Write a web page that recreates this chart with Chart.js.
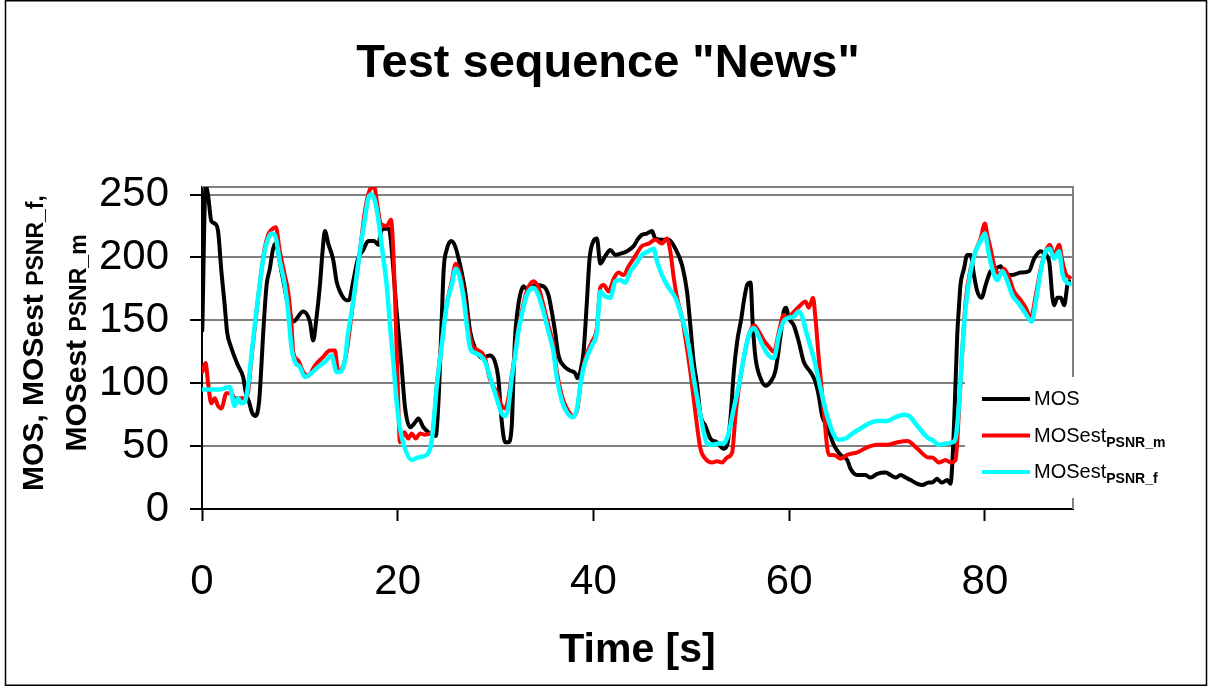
<!DOCTYPE html>
<html>
<head>
<meta charset="utf-8">
<script src="https://cdn.jsdelivr.net/npm/chart.js@4.4.1/dist/chart.umd.min.js"></script>
<style>
  body { margin: 0; background: #fff; }
  #wrap { width: 1209px; height: 686px; }
</style>
</head>
<body>
<div id="wrap"><canvas id="myChart" width="1209" height="686"></canvas></div>
<script>
'use strict';

// ******** DATA *********************************

let chartTitle = 'Test sequence "News"';
let xTitle = 'Time [s]';
let xTicks = [0, 20, 40, 60, 80];
let yTicks = [0, 50, 100, 150, 200, 250];

// MOS (black)
let mosTime = [0.03, 0.37, 0.61, 0.95, 1.3, 1.64, 1.98, 2.32, 2.56, 3.0, 3.68, 4.2, 4.47, 4.81, 5.15, 5.49, 5.83, 6.0, 6.24, 6.6, 6.93, 7.27, 7.5, 8.12, 8.8, 9.32, 10.34, 11.02, 11.36, 11.7, 12.05, 12.32, 12.56, 12.9, 13.41, 13.75, 14.09, 14.78, 15.0, 15.45, 15.9, 16.48, 16.99, 17.6, 18.0, 18.35, 19.04, 19.2, 19.9, 20.4, 20.74, 21.26, 21.7, 22.1, 22.62, 23.3, 23.88, 24.16, 24.5, 24.7, 25.0, 25.45, 25.86, 26.37, 26.89, 27.4, 27.9, 28.6, 29.43, 29.94, 30.28, 30.6, 30.97, 31.3, 31.65, 31.82, 32.0, 32.23, 32.5, 32.84, 33.35, 34.04, 34.89, 35.4, 35.74, 36.08, 36.43, 36.94, 37.62, 38.13, 38.37, 38.65, 38.99, 39.33, 39.6, 40.0, 40.35, 40.7, 41.2, 41.72, 42.23, 42.74, 43.42, 44.1, 44.58, 44.95, 45.46, 45.98, 46.32, 47.0, 47.68, 48.37, 49.05, 49.56, 49.9, 50.24, 50.6, 50.93, 51.44, 51.95, 52.63, 53.3, 53.66, 54.0, 54.34, 54.68, 55.12, 55.36, 55.7, 56.05, 56.28, 56.56, 57.07, 57.58, 58.09, 58.6, 59.12, 59.44, 59.7, 59.95, 60.47, 60.98, 61.49, 62.17, 62.68, 63.02, 63.37, 63.88, 64.56, 65.24, 65.93, 66.27, 66.95, 67.8, 68.3, 69.0, 69.85, 70.36, 70.87, 71.39, 71.9, 72.41, 73.1, 73.6, 74.25, 74.6, 75.1, 75.6, 76.15, 76.49, 76.66, 76.93, 77.17, 77.34, 77.5, 77.86, 78.2, 78.54, 78.88, 79.22, 79.66, 80.07, 80.58, 81.1, 81.6, 82.12, 82.8, 83.66, 84.5, 85.02, 85.7, 86.05, 86.56, 86.9, 87.07, 87.4, 87.75, 88.1, 88.43, 88.6];
let mosValues = [142, 257, 250, 229, 227, 221, 189, 162, 141, 128, 114, 105, 93, 85, 76, 74, 85, 104, 138, 178, 191, 207, 211, 189, 162, 149, 157, 149, 134, 152, 178, 205, 221, 211, 198, 181, 173, 166, 166, 181, 198, 206, 213, 213, 210, 222, 223, 220, 156, 113, 81, 65, 68, 72, 65, 60, 58, 85, 152, 191, 206, 213, 209, 194, 173, 141, 128, 120, 122, 117, 104, 72, 53, 53, 66, 104, 138, 157, 170, 177, 174, 178, 177, 170, 157, 141, 122, 114, 110, 108, 104, 109, 125, 165, 199, 213, 215, 195, 201, 206, 202, 203, 205, 209, 215, 218, 219, 221, 215, 214, 214, 207, 194, 173, 146, 117, 98, 75, 66, 56, 53, 48, 51, 72, 109, 133, 152, 165, 178, 180, 146, 120, 104, 98, 101, 110, 138, 157, 160, 152, 146, 133, 117, 109, 101, 90, 74, 66, 51, 43, 39, 32, 27, 27, 25, 28, 29, 27, 25, 27, 25, 23, 20, 19, 21, 21, 24, 21, 23, 20, 35, 85, 138, 160, 178, 191, 202, 202, 186, 173, 168, 178, 189, 191, 193, 186, 186, 188, 189, 199, 205, 203, 197, 168, 162, 168, 168, 162, 178, 181];

// MOSest PSNR_m (red)
let estMTime = [0.03, 0.37, 0.61, 0.95, 1.3, 1.64, 1.98, 2.49, 3.0, 3.34, 3.86, 4.37, 4.71, 5.05, 5.39, 5.73, 6.07, 6.4, 6.76, 7.1, 7.54, 7.95, 8.46, 8.8, 9.15, 9.32, 9.83, 10.34, 10.85, 11.53, 12.39, 13.07, 13.58, 13.92, 14.44, 14.78, 15.45, 16.14, 16.65, 17.16, 17.6, 17.91, 18.25, 18.87, 19.31, 19.55, 19.79, 20.0, 20.23, 20.68, 21.08, 21.43, 21.84, 22.28, 22.79, 23.3, 23.54, 23.99, 24.5, 25.0, 25.52, 25.93, 26.37, 26.82, 27.23, 27.64, 28.25, 28.87, 29.43, 30.11, 30.62, 30.97, 31.3, 31.65, 32.0, 32.33, 32.67, 33.18, 33.87, 34.38, 34.89, 35.4, 35.91, 36.26, 36.77, 37.28, 37.96, 38.37, 38.65, 38.99, 39.4, 39.84, 40.35, 40.7, 41.04, 41.55, 42.06, 42.57, 43.08, 43.59, 44.1, 44.58, 44.95, 45.64, 46.32, 47.0, 47.51, 47.85, 48.2, 48.54, 49.05, 49.39, 49.9, 50.41, 50.93, 51.44, 52.12, 52.63, 53.14, 53.66, 54.17, 54.51, 54.85, 55.36, 55.87, 56.39, 56.9, 57.41, 57.92, 58.43, 58.95, 59.42, 59.61, 60.12, 60.64, 61.15, 61.66, 62.0, 62.44, 62.68, 63.02, 63.54, 64.05, 64.56, 65.24, 65.93, 66.95, 67.97, 68.98, 70.02, 71.05, 72.07, 73.1, 74.25, 74.6, 75.3, 75.98, 76.49, 77.0, 77.34, 77.68, 78.03, 78.54, 79.05, 79.56, 80.0, 80.24, 80.58, 80.93, 81.44, 81.95, 82.46, 82.97, 83.66, 84.17, 84.69, 85.2, 85.7, 86.22, 86.63, 87.07, 87.58, 87.92, 88.26, 88.67];
let estMValues = [109, 116, 101, 84, 88, 82, 80, 92, 92, 88, 88, 88, 93, 120, 144, 168, 189, 207, 218, 222, 224, 205, 186, 173, 146, 125, 118, 109, 106, 114, 121, 126, 126, 109, 114, 125, 165, 205, 237, 254, 256, 242, 227, 225, 230, 205, 152, 98, 53, 61, 56, 60, 56, 60, 59, 60, 61, 98, 133, 162, 181, 195, 187, 168, 144, 130, 126, 121, 103, 93, 82, 80, 88, 106, 125, 144, 157, 173, 181, 176, 162, 146, 130, 109, 90, 80, 74, 80, 98, 114, 125, 133, 144, 176, 178, 173, 183, 188, 186, 193, 199, 205, 209, 211, 214, 211, 215, 205, 184, 168, 152, 136, 109, 77, 48, 40, 37, 38, 37, 41, 45, 74, 96, 120, 138, 146, 141, 134, 129, 125, 141, 154, 152, 154, 158, 162, 165, 160, 168, 152, 120, 77, 43, 43, 40, 43, 45, 49, 51, 51, 53, 54, 48, 41, 41, 37, 39, 37, 39, 77, 125, 165, 191, 205, 215, 227, 218, 207, 194, 187, 191, 184, 173, 166, 160, 152, 170, 191, 205, 210, 202, 210, 197, 187, 184];

// MOSest PSNR_f (cyan)
let estFTime = [0.03, 0.78, 1.81, 2.83, 3.34, 3.68, 4.03, 4.37, 4.71, 5.05, 5.39, 5.73, 6.07, 6.4, 6.76, 7.1, 7.44, 7.95, 8.46, 8.8, 9.15, 9.49, 10.0, 10.51, 11.19, 11.87, 12.56, 13.24, 13.75, 14.1, 14.6, 14.9, 15.45, 16.14, 16.65, 16.99, 17.33, 17.67, 18.0, 18.35, 18.87, 19.21, 19.55, 19.89, 20.23, 20.74, 21.43, 22.1, 22.96, 23.4, 23.64, 23.99, 24.5, 25.0, 25.52, 25.93, 26.27, 26.72, 27.06, 27.4, 27.91, 28.42, 28.93, 29.43, 30.11, 30.62, 30.97, 31.3, 31.65, 32.0, 32.33, 32.67, 33.18, 33.87, 34.38, 34.89, 35.4, 35.91, 36.26, 36.77, 37.28, 37.96, 38.37, 38.65, 38.99, 39.4, 39.84, 40.35, 40.7, 41.2, 41.72, 42.23, 42.74, 43.25, 43.76, 44.27, 44.95, 45.64, 46.15, 46.49, 47.0, 47.68, 48.37, 49.05, 49.73, 50.24, 50.75, 51.27, 51.61, 52.12, 52.8, 53.3, 53.83, 54.34, 54.85, 55.36, 55.87, 56.39, 56.9, 57.41, 57.92, 58.43, 58.95, 59.42, 59.95, 60.47, 60.98, 61.32, 61.83, 62.51, 63.2, 63.88, 64.56, 65.07, 65.75, 66.44, 67.3, 68.14, 68.98, 70.02, 70.87, 71.73, 72.24, 73.1, 74.25, 74.6, 75.3, 75.98, 76.66, 77.0, 77.34, 77.68, 78.03, 78.54, 79.05, 79.56, 80.0, 80.35, 80.75, 81.27, 81.78, 82.29, 82.8, 83.49, 84.17, 84.79, 85.2, 85.7, 86.22, 86.63, 87.07, 87.58, 87.92, 88.26, 88.67];
let estFValues = [95, 95, 95, 97, 82, 88, 84, 85, 98, 122, 146, 168, 189, 205, 215, 219, 218, 197, 178, 157, 128, 117, 113, 105, 108, 113, 117, 122, 109, 109, 118, 138, 165, 205, 231, 247, 250, 245, 231, 210, 178, 146, 117, 85, 64, 48, 39, 41, 43, 51, 66, 98, 130, 162, 178, 191, 186, 168, 146, 128, 124, 122, 117, 105, 88, 76, 74, 81, 104, 122, 141, 154, 170, 176, 170, 157, 141, 125, 104, 86, 77, 73, 82, 98, 112, 122, 130, 141, 173, 169, 168, 181, 182, 180, 189, 194, 202, 205, 207, 197, 186, 176, 168, 152, 130, 104, 82, 61, 52, 51, 52, 52, 61, 80, 98, 120, 138, 144, 137, 128, 122, 120, 138, 149, 152, 153, 157, 153, 138, 120, 96, 74, 59, 55, 56, 60, 64, 68, 70, 70, 73, 75, 74, 66, 56, 55, 51, 52, 53, 56, 82, 125, 160, 189, 205, 213, 219, 205, 191, 182, 189, 181, 170, 163, 155, 149, 165, 189, 205, 207, 199, 205, 187, 181, 179];

// ********** HELPERS ***********

function toPoints(times, values) {
  let points = [];
  for (let i = 0; i < times.length; i++) {
    points.push({ x: times[i], y: values[i] });
  }
  return points;
}

let fontFamily = '"Liberation Sans", Arial, sans-serif';

// draws a row of text pieces with different sizes, one after another
function drawPieces(c, pieces, x, y) {
  let cx = x;
  for (let i = 0; i < pieces.length; i++) {
    let p = pieces[i];
    c.font = p.font;
    c.fillText(p.text, cx, y + (p.dy || 0));
    cx += c.measureText(p.text).width;
  }
  return cx;
}

function piecesWidth(c, pieces) {
  let w = 0;
  for (let i = 0; i < pieces.length; i++) {
    c.font = pieces[i].font;
    w += c.measureText(pieces[i].text).width;
  }
  return w;
}

// ********** PLUGIN FOR TITLE, Y TITLE, LEGEND, FRAME ***********

let decorPlugin = {
  id: 'decor',
  beforeDraw(chart) {
    let c = chart.ctx;
    c.save();
    c.fillStyle = '#fff';
    c.fillRect(0, 0, chart.width, chart.height);
    c.restore();
  },
  beforeDatasetsDraw(chart) {
    let c = chart.ctx;
    let a = chart.chartArea;
    c.save();
    c.strokeStyle = '#808080';
    c.lineWidth = 2;
    c.beginPath();
    c.moveTo(a.left, a.top);
    c.lineTo(a.right, a.top);
    c.lineTo(a.right, a.bottom);
    c.stroke();
    c.restore();
  },
  afterDraw(chart) {
    let c = chart.ctx;
    c.save();
    c.fillStyle = '#000';

    // main title
    c.font = 'bold 47px ' + fontFamily;
    c.textAlign = 'center';
    c.textBaseline = 'alphabetic';
    c.fillText(chartTitle, 608, 77);

    // y axis title, two rotated lines
    c.textAlign = 'left';
    let big = 'bold 30px ' + fontFamily;
    let small = 'bold 23px ' + fontFamily;
    let line1 = [{ text: 'MOS, MOSest ', font: big }, { text: 'PSNR_f,', font: small }];
    let line2 = [{ text: 'MOSest ', font: big }, { text: 'PSNR_m', font: small }];
    let lines = [[line1, 43], [line2, 86]];
    for (let i = 0; i < lines.length; i++) {
      let w = piecesWidth(c, lines[i][0]);
      c.save();
      c.translate(lines[i][1], 343);
      c.rotate(-Math.PI / 2);
      drawPieces(c, lines[i][0], -w / 2, 0);
      c.restore();
    }

    // legend
    c.fillStyle = '#fff';
    c.fillRect(965, 377, 238, 121);
    let legendItems = [
      { color: '#000000', label: 'MOS', sub: '' },
      { color: '#ff0000', label: 'MOSest', sub: 'PSNR_m' },
      { color: '#00ffff', label: 'MOSest', sub: 'PSNR_f' }
    ];
    for (let i = 0; i < legendItems.length; i++) {
      let base = 405 + i * 36.5;
      c.strokeStyle = legendItems[i].color;
      c.lineWidth = 4;
      c.beginPath();
      c.moveTo(982, base - 6);
      c.lineTo(1030, base - 6);
      c.stroke();
      c.fillStyle = '#000';
      drawPieces(c, [
        { text: legendItems[i].label, font: '20px ' + fontFamily },
        { text: legendItems[i].sub, font: 'bold 14px ' + fontFamily, dy: 5 }
      ], 1034, base);
    }

    // frame around the whole chart
    c.strokeStyle = '#000';
    c.lineWidth = 1.5;
    c.strokeRect(5.5, 0.75, 1201, 684.5);
    c.restore();
  }
};

// ********** CHART ***********

let ctx = document.getElementById('myChart').getContext('2d');

let myChartObj = {
  type: 'line',
  data: {
    datasets: [{
      label: 'MOS',
      data: toPoints(mosTime, mosValues),
      borderColor: '#000000',
      borderWidth: 4,
      order: 3
    },
    {
      label: 'MOSest PSNR_m',
      data: toPoints(estMTime, estMValues),
      borderColor: '#ff0000',
      borderWidth: 4,
      order: 2
    },
    {
      label: 'MOSest PSNR_f',
      data: toPoints(estFTime, estFValues),
      borderColor: '#00ffff',
      borderWidth: 4.5,
      order: 1
    }]
  },
  options: {
    responsive: false,
    animation: false,
    events: [],
    elements: {
      point: { radius: 0 },
      line: { cubicInterpolationMode: 'monotone', borderJoinStyle: 'round', borderCapStyle: 'round', fill: false }
    },
    layout: { padding: { top: 187, right: 136, left: 0, bottom: 0 } },
    plugins: {
      legend: { display: false },
      tooltip: { enabled: false },
      title: { display: false }
    },
    scales: {
      x: {
        type: 'linear',
        min: 0,
        max: 89,
        afterFit: function (scale) { scale.height = 177; },
        afterBuildTicks: function (scale) { scale.ticks = xTicks.map(v => ({ value: v })); },
        grid: { drawOnChartArea: false, drawTicks: true, tickLength: 12, tickColor: '#000', tickWidth: 2 },
        border: { color: '#000', width: 2 },
        ticks: { color: '#000', font: { family: fontFamily, size: 42 }, padding: 36, maxRotation: 0 },
        title: { display: true, text: xTitle, color: '#000', font: { family: fontFamily, size: 41, weight: 'bold' }, padding: { top: 0, bottom: 11 } }
      },
      y: {
        min: 0,
        max: 256,
        afterFit: function (scale) { scale.width = 202; },
        afterBuildTicks: function (scale) { scale.ticks = yTicks.map(v => ({ value: v })); },
        grid: { color: '#808080', lineWidth: 2, drawTicks: true, tickLength: 12, tickColor: '#000', tickWidth: 2 },
        border: { color: '#000', width: 2 },
        ticks: { color: '#000', font: { family: fontFamily, size: 42 }, padding: 21 }
      }
    }
  },
  plugins: [decorPlugin]
};

new Chart(ctx, myChartObj);
</script>
</body>
</html>
